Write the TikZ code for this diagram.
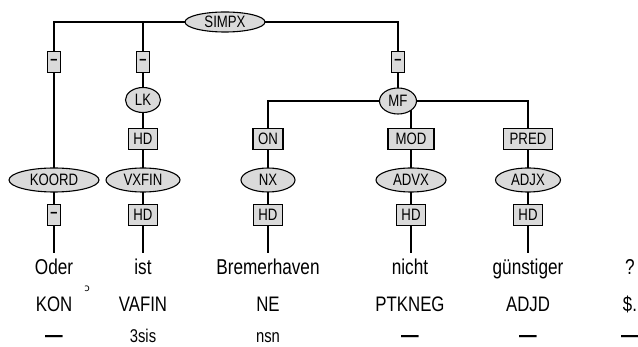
\documentclass[tikz,border=0pt]{standalone}
\usepackage{fontspec}
\setmainfont{Liberation Sans}[FakeStretch=0.8]
\newfontfamily\dejavu{DejaVu Sans}
\usetikzlibrary{shapes.geometric,backgrounds}
\definecolor{boxgray}{HTML}{DADADA}
\tikzset{
  cat/.style={ellipse,draw,fill=boxgray,line width=1.1pt,inner sep=0pt,font=\fontsize{16.5}{16.5}\selectfont},
  edgelab/.style={rectangle,draw,fill=boxgray,line width=1.1pt,inner sep=0pt,minimum height=21pt,font=\fontsize{16.5}{16.5}\selectfont},
  dashlab/.style={edgelab,minimum width=13pt,font=\fontsize{16}{16}\selectfont\bfseries},
  hdlab/.style={edgelab,minimum width=29pt},
  word/.style={anchor=base,inner sep=0pt,font=\fontsize{21.5}{21.5}\selectfont},
  tag/.style={anchor=base,inner sep=0pt,font=\fontsize{21}{21}\selectfont},
  morph/.style={anchor=base,inner sep=0pt,font=\fontsize{18.5}{18.5}\selectfont},
  nomorph/.style={anchor=base,inner sep=0pt,font=\fontsize{22}{22}\selectfont\bfseries},
  branch/.style={line width=1.1pt}
}
\begin{document}
\begin{tikzpicture}[x=1pt,y=-1pt]
\useasboundingbox (0,0) rectangle (638,347);
% categories
\node[cat,minimum width=80pt,minimum height=20pt] (simpx) at (225,22) {SIMPX};
\node[cat,minimum width=35pt,minimum height=25pt] (lk) at (143,100) {LK};
\node[cat,minimum width=37pt,minimum height=26pt] (mf) at (398,101) {MF};
\node[cat,minimum width=90pt,minimum height=24pt] (koord) at (54,180) {KOORD};
\node[cat,minimum width=74pt,minimum height=24pt] (vxfin) at (143,180) {VXFIN};
\node[cat,minimum width=54pt,minimum height=24pt] (nx) at (268,180) {NX};
\node[cat,minimum width=70pt,minimum height=24pt] (advx) at (411,180) {ADVX};
\node[cat,minimum width=65pt,minimum height=24pt] (adjx) at (528,180) {ADJX};
% edge labels
\node[dashlab] (d1) at (54,62) {–};
\node[dashlab] (d2) at (143,62) {–};
\node[dashlab] (d3) at (398,62) {–};
\node[hdlab] (hdlk) at (143,139) {HD};
\node[edgelab,minimum width=30pt] (on) at (268,139) {ON};
\node[edgelab,minimum width=46pt] (mod) at (411,139) {MOD};
\node[edgelab,minimum width=49pt] (pred) at (528,139) {PRED};
\node[dashlab] (d4) at (54,215) {–};
\node[hdlab] (hd2) at (143,215) {HD};
\node[hdlab] (hd3) at (268,215) {HD};
\node[hdlab] (hd4) at (411,215) {HD};
\node[hdlab] (hd5) at (528,215) {HD};
% line ends above words
\coordinate (e1) at (54,253);
\coordinate (e2) at (143,253);
\coordinate (e3) at (268,253);
\coordinate (e4) at (411,253);
\coordinate (e5) at (528,253);
% words
\node[word] (w1) at (54,275) {Oder};
\node[word] (w2) at (143,275) {ist};
\node[word] (w3) at (268,275) {Bremerhaven};
\node[word] (w4) at (410,275) {nicht};
\node[word] (w5) at (528,275) {günstiger};
\node[word] (w6) at (630,275) {?};
\node[inner sep=0pt,font=\dejavu\fontsize{10}{10}\selectfont] (mark) at (87,289) {ɔ};
% tags
\node[tag] (t1) at (54,312) {KON};
\node[tag] (t2) at (143,312) {VAFIN};
\node[tag] (t3) at (268,312) {NE};
\node[tag] (t4) at (410,312) {PTKNEG};
\node[tag] (t5) at (528,312) {ADJD};
\node[tag] (t6) at (630,312) {\$.};
% morphology
\node[nomorph] (m1) at (54,343) {—};
\node[morph] (m2) at (143,343) {3sis};
\node[morph] (m3) at (268,343) {nsn};
\node[nomorph] (m4) at (410,343) {—};
\node[nomorph] (m5) at (528,343) {—};
\node[nomorph] (m6) at (630,343) {—};
% branches
\begin{pgfonlayer}{background}
\draw[branch] (simpx.center) -| (d1.center) -- (koord.center);
\draw[branch] (simpx.center) -| (d2.center) -- (lk.center) -- (hdlk.center) -- (vxfin.center);
\draw[branch] (simpx.center) -| (d3.center) -- (mf.center);
\draw[branch] (mf.center) -| (on.center) -- (nx.center);
\draw[branch] (mf.center) -| (pred.center) -- (adjx.center);
\draw[branch] (mod.center |- mf.center) -- (mod.center) -- (advx.center);
\draw[branch] (koord.center) -- (d4.center) -- (e1);
\draw[branch] (vxfin.center) -- (hd2.center) -- (e2);
\draw[branch] (nx.center) -- (hd3.center) -- (e3);
\draw[branch] (advx.center) -- (hd4.center) -- (e4);
\draw[branch] (adjx.center) -- (hd5.center) -- (e5);
\end{pgfonlayer}
\end{tikzpicture}
\end{document}
